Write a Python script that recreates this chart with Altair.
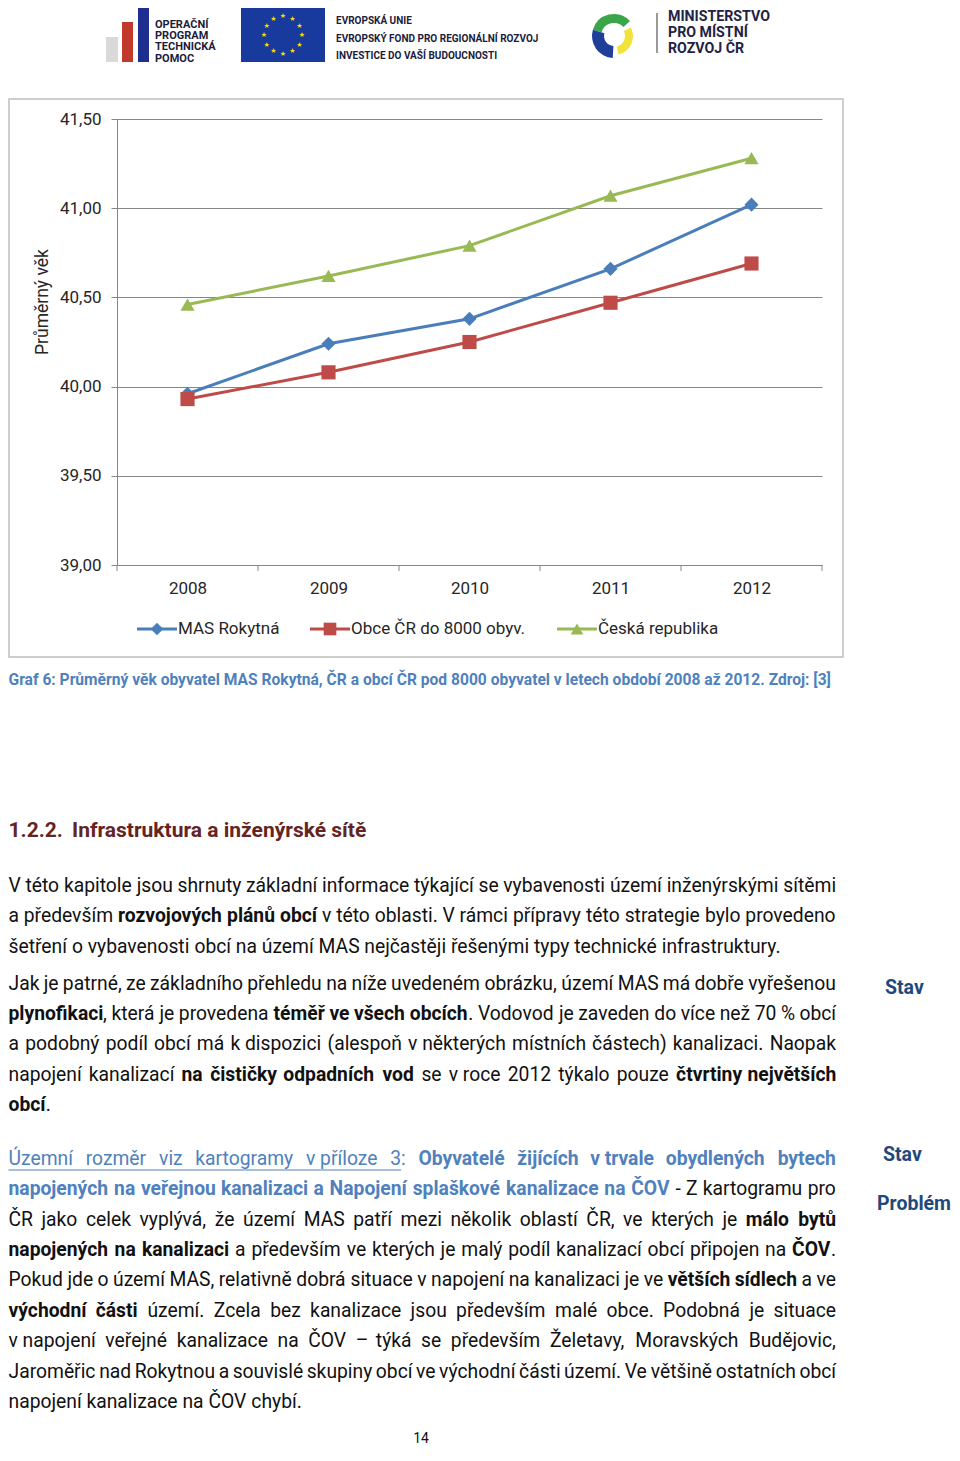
import unicodedata
import altair as alt
import pandas as pd
import numpy as np

# ---------------- data ----------------
YEARS = [2008, 2009, 2010, 2011, 2012]
SERIES = ["MAS Rokytná", "Obce ČR do 8000 obyv.", "Česká republika"]
MAS_ROKYTNA = [39.96, 40.24, 40.38, 40.66, 41.02]
OBCE_8000 = [39.93, 40.08, 40.25, 40.47, 40.69]
CESKA_REP = [40.46, 40.62, 40.79, 41.07, 41.28]
Y_TICKS = [39.0, 39.5, 40.0, 40.5, 41.0, 41.5]
X_TICK_MARKS = [2007.5, 2008.5, 2009.5, 2010.5, 2011.5, 2012.5]
COLORS = ["#4A7EBB", "#BE4B48", "#98B954"]
SHAPES = ["diamond", "square", "triangle-up"]

CAPTION = "Graf 6: Průměrný věk obyvatel MAS Rokytná, ČR a obcí ČR pod 8000 obyvatel v letech období 2008 až 2012. Zdroj: [3]"
Y_TITLE = "Průměrný věk"

NB = "\u00a0"
PARA_1 = [
    [("V této kapitole jsou shrnuty základní informace týkající se vybavenosti území inženýrskými sítěmi", "n")],
    [("a především ", "n"), ("rozvojových plánů obcí", "b"), (" v této oblasti. V rámci přípravy této strategie bylo provedeno", "n")],
    [("šetření o vybavenosti obcí na území MAS nejčastěji řešenými typy technické infrastruktury.", "n")],
]
PARA_2 = [
    [("Jak je patrné, ze základního přehledu na níže uvedeném obrázku, území MAS má dobře vyřešenou", "n")],
    [("plynofikaci", "b"), (", která je provedena ", "n"), ("téměř ve všech obcích", "b"), (". Vodovod je zaveden do více než 70 % obcí", "n")],
    [("a podobný podíl obcí má k" + NB + "dispozici (alespoň v" + NB + "některých místních částech) kanalizaci. Naopak", "n")],
    [("napojení kanalizací ", "n"), ("na čističky odpadních vod", "b"), (" se v" + NB + "roce 2012 týkalo pouze ", "n"), ("čtvrtiny největších", "b")],
    [("obcí", "b"), (".", "n")],
]
PARA_3 = [
    [("Územní rozměr viz kartogramy v" + NB + "příloze 3", "u"), (":", "bn"), (" ", "n"), ("Obyvatelé žijících v" + NB + "trvale obydlených bytech", "bb")],
    [("napojených na veřejnou kanalizaci a Napojení splaškové kanalizace na ČOV", "bb"), (" - Z kartogramu pro", "n")],
    [("ČR jako celek vyplývá, že území MAS patří mezi několik oblastí ČR, ve kterých je ", "n"), ("málo bytů", "b")],
    [("napojených na kanalizaci", "b"), (" a především ve kterých je malý podíl kanalizací obcí připojen na ", "n"), ("ČOV", "b"), (".", "n")],
    [("Pokud jde o území MAS, relativně dobrá situace v napojení na kanalizaci je ve ", "n"), ("větších sídlech", "b"), (" a ve", "n")],
    [("východní části", "b"), (" území. Zcela bez kanalizace jsou především malé obce. Podobná je situace", "n")],
    [("v" + NB + "napojení veřejné kanalizace na ČOV – týká se především Želetavy, Moravských Budějovic,", "n")],
    [("Jaroměřic nad Rokytnou a souvislé skupiny obcí ve východní části území. Ve většině ostatních obcí", "n")],
    [("napojení kanalizace na ČOV chybí.", "n")],
]

rows = []
for name, vals in zip(SERIES, [MAS_ROKYTNA, OBCE_8000, CESKA_REP]):
    for yr, v in zip(YEARS, vals):
        rows.append({"series": name, "year": yr, "value": v})
df = pd.DataFrame(rows)

# ---------------- layout ----------------
FONT = "Roboto"
OX, OY = 117, 119           # page position of plot origin
W, H = 705, 446
BODY = 19.3
BLACK = "#111111"
BLUE = "#4F81BD"
NAVY = "#1F497D"
MAROON = "#632423"
LX = 8.5                    # left text margin on the page
RX = 836                    # right edge of justified text

# approximate Roboto advance widths (em)
ADV = {" ": .248, NB: .248, ",": .196, ".": .263, ":": .242, "-": .276, "–": .54,
       "%": .715, "(": .334, ")": .340, "[": .266, "]": .266}
ADV.update({d: .562 for d in "0123456789"})
ADV.update(dict(zip("ABCDEFGHIJKLMNOPQRSTUVWXYZ",
                    [.652, .624, .651, .656, .568, .552, .681, .713, .272, .552, .627, .538, .873,
                     .713, .688, .631, .688, .616, .594, .597, .648, .636, .887, .627, .600, .599])))
ADV.update(dict(zip("abcdefghijklmnopqrstuvwxyz",
                    [.544, .561, .523, .564, .530, .347, .561, .551, .243, .239, .507, .243, .876,
                     .552, .570, .561, .568, .338, .516, .327, .551, .484, .751, .496, .473, .496])))


def adv(ch):
    if ch in ADV:
        return ADV[ch]
    base = unicodedata.normalize("NFD", ch)[0]
    return ADV.get(base, .55)


def text_width(s, style, size):
    f = 1.02 if style in ("b", "bb") else 1.0
    return sum(adv(c) for c in s) * size * f


def layout_line(runs, y, justify, x0=LX, x1=RX, size=BODY):
    chars = [(c, st) for t, st in runs for c in t]
    words, cur = [], []
    for c, st in chars:
        if c == " ":
            if cur:
                words.append(cur)
                cur = []
        else:
            cur.append((c, st))
    if cur:
        words.append(cur)
    wl = []
    for w in words:
        pieces = []
        for c, st in w:
            if pieces and pieces[-1][1] == st:
                pieces[-1][0] += c
            else:
                pieces.append([c, st])
        widths = [text_width(p, st, size) for p, st in pieces]
        wl.append((pieces, widths, sum(widths)))
    total = sum(w[2] for w in wl)
    if justify and len(wl) > 1:
        gap = (x1 - x0 - total) / (len(wl) - 1)
    else:
        gap = ADV[" "] * size
    out, x = [], x0
    for pieces, widths, tw in wl:
        px = x
        for (p, st), wd in zip(pieces, widths):
            out.append((px, y, p, st, wd))
            px += wd
        x += tw + gap
    return out


ONE = alt.Data(values=[{"k": 1}])


def txt(x, y, s, size=BODY, weight="normal", color=BLACK, align="left",
        baseline="middle", angle=None, font=FONT):
    kw = dict(text=s, fontSize=size, fontWeight=weight, color=color,
              align=align, baseline=baseline, font=font)
    if angle is not None:
        kw["angle"] = angle
    return alt.Chart(ONE).mark_text(**kw).encode(
        x=alt.value(x - OX), y=alt.value(y - OY))


def box(x1, y1, x2, y2, **kw):
    return alt.Chart(ONE).mark_rect(**kw).encode(
        x=alt.value(x1 - OX), x2=alt.value(x2 - OX),
        y=alt.value(y1 - OY), y2=alt.value(y2 - OY))


def hline(x1, x2, y, **kw):
    return alt.Chart(ONE).mark_rule(**kw).encode(
        x=alt.value(x1 - OX), x2=alt.value(x2 - OX), y=alt.value(y - OY))


def vline(x, y1, y2, **kw):
    return alt.Chart(ONE).mark_rule(**kw).encode(
        x=alt.value(x - OX), y=alt.value(y1 - OY), y2=alt.value(y2 - OY))


def arc(cx, cy, t1, t2, r1, r2, color):
    return alt.Chart(ONE).mark_arc(theta=t1, theta2=t2, radius=r2, radius2=r1,
                                   color=color).encode(
        x=alt.value(cx - OX), y=alt.value(cy - OY))


layers = []

# ---------- header logos ----------
layers += [
    box(106, 37, 118, 62, color="#D9D9D9"),
    box(122, 22, 133, 62, color="#C0392B"),
    box(138, 8, 149, 62, color="#1F2F8F"),
]
for i, s in enumerate(["OPERAČNÍ", "PROGRAM", "TECHNICKÁ", "POMOC"]):
    layers.append(txt(155, 25 + i * 11.2, s, size=11, weight="bold", color="#1C1C3C"))
layers.append(box(241, 8, 325, 62, color="#173A9C"))
for k in range(12):
    a = k * np.pi / 6
    layers.append(txt(283 + 19 * np.sin(a), 35 - 19 * np.cos(a), "★", size=7,
                      color="#FFDD00", align="center", font="DejaVu Sans"))
for i, s in enumerate(["EVROPSKÁ UNIE", "EVROPSKÝ FOND PRO REGIONÁLNÍ ROZVOJ",
                       "INVESTICE DO VAŠÍ BUDOUCNOSTI"]):
    layers.append(txt(336, 21 + i * 17.5, s, size=10, weight="bold", color="#1C1C3C"))
layers += [
    arc(614, 36, 5.0, 7.1, 13, 22, "#3BA54A"),
    arc(614, 36, 3.2, 5.0, 10, 22, "#1F3F99"),
    arc(614, 36, 1.1, 2.9, 11, 19, "#F2E23A"),
    vline(657, 13, 53, color="#555555", strokeWidth=1.2),
]
for i, s in enumerate(["MINISTERSTVO", "PRO MÍSTNÍ", "ROZVOJ ČR"]):
    layers.append(txt(668, 17 + i * 16, s, size=14.2, weight="bold", color="#222244"))

# ---------- chart frame ----------
layers.append(box(9, 99, 843, 657, fillOpacity=0, stroke="#BFBFBF", strokeWidth=1.5))

# ---------- chart ----------
xenc = alt.X("year:Q",
             scale=alt.Scale(domain=[2007.5, 2012.5], nice=False, zero=False),
             axis=alt.Axis(values=YEARS, format="d", ticks=False, tickSize=0,
                           grid=False, title=None, labelPadding=15,
                           domainColor="#868686", labelFontSize=17,
                           labelColor="#262626", labelFont=FONT))
yenc = alt.Y("value:Q",
             scale=alt.Scale(domain=[39, 41.5], nice=False, zero=False),
             axis=alt.Axis(values=Y_TICKS,
                           labelExpr="replace(format(datum.value, '.2f'), '.', ',')",
                           tickSize=6, tickColor="#868686", domainColor="#868686",
                           gridColor="#868686", grid=True, labelPadding=10,
                           title=None, labelFontSize=17, labelColor="#262626",
                           labelFont=FONT))
cenc = alt.Color("series:N", scale=alt.Scale(domain=SERIES, range=COLORS), legend=None)
senc = alt.Shape("series:N", scale=alt.Scale(domain=SERIES, range=SHAPES), legend=None)

base = alt.Chart(df)
plot = alt.layer(
    base.mark_line(strokeWidth=3).encode(x=xenc, y=yenc, color=cenc),
    base.mark_point(filled=True, size=200, opacity=1).encode(
        x="year:Q", y="value:Q", color=cenc, shape=senc),
    alt.Chart(pd.DataFrame({"t": X_TICK_MARKS})).mark_rule(color="#868686").encode(
        x="t:Q", y=alt.value(H), y2=alt.value(H + 6)),
)
layers.append(plot)
layers.append(txt(43, 302, Y_TITLE, size=17.5, color="#262626", align="center", angle=270))

# legend
LEG_X = [137, 310, 557]
LEG_Y = 629
for name, col, shp, lx in zip(SERIES, COLORS, SHAPES, LEG_X):
    layers.append(hline(lx, lx + 40, LEG_Y, color=col, strokeWidth=3))
    layers.append(alt.Chart(ONE).mark_point(filled=True, size=160, shape=shp, color=col,
                                            opacity=1).encode(
        x=alt.value(lx + 20 - OX), y=alt.value(LEG_Y - OY)))
    layers.append(txt(lx + 41, LEG_Y, name, size=17, color="#262626"))

# caption
layers.append(txt(LX, 680, CAPTION, size=15.6, weight="bold", color=BLUE))

# ---------- page text ----------
layers.append(txt(LX, 831, "1.2.2.", size=21, weight="bold", color=MAROON))
layers.append(txt(72, 831, "Infrastruktura a inženýrské sítě", size=21, weight="bold", color=MAROON))

pieces = []
for para, ys in [(PARA_1, [886, 916, 947]),
                 (PARA_2, [984, 1014, 1044, 1075, 1105]),
                 (PARA_3, [1159, 1189, 1220, 1250, 1280, 1311, 1341, 1372, 1402])]:
    for i, (line, y) in enumerate(zip(para, ys)):
        pieces += layout_line(line, y, justify=(i < len(para) - 1))

STYLE = {"n": ("normal", BLACK), "b": ("bold", BLACK), "u": ("normal", BLUE),
         "bn": ("normal", BLUE), "bb": ("bold", BLUE)}
groups = {}
for px, py, t, st, wd in pieces:
    key = STYLE[st]
    groups.setdefault(key, []).append({"px": px - OX, "py": py - OY, "t": t})
for (weight, color), recs in groups.items():
    layers.append(alt.Chart(pd.DataFrame(recs)).mark_text(
        align="left", baseline="middle", fontSize=BODY, fontWeight=weight,
        color=color, font=FONT).encode(
        x=alt.X("px:Q", scale=None, axis=None),
        y=alt.Y("py:Q", scale=None, axis=None),
        text="t:N"))

u = [(px, px + wd) for px, py, t, st, wd in pieces if st == "u"]
layers.append(hline(min(a for a, b in u), max(b for a, b in u), 1170, color=BLUE, strokeWidth=1))

layers.append(txt(885, 988, "Stav", size=19.5, weight="bold", color=NAVY))
layers.append(txt(883, 1155, "Stav", size=19.5, weight="bold", color=NAVY))
layers.append(txt(877, 1204, "Problém", size=19.5, weight="bold", color=NAVY))
layers.append(txt(421, 1443, "14", size=14, color=BLACK, align="center", baseline="alphabetic"))

chart = alt.layer(*layers).resolve_scale(
    x="independent", y="independent"
).properties(
    width=W, height=H,
    autosize=alt.AutoSizeParams(type="none"),
    padding={"left": 109, "top": 111, "right": 130, "bottom": 883},
    background="white",
).configure_view(stroke=None)

chart.save("out.html", embed_options={"renderer": "svg", "actions": False})
